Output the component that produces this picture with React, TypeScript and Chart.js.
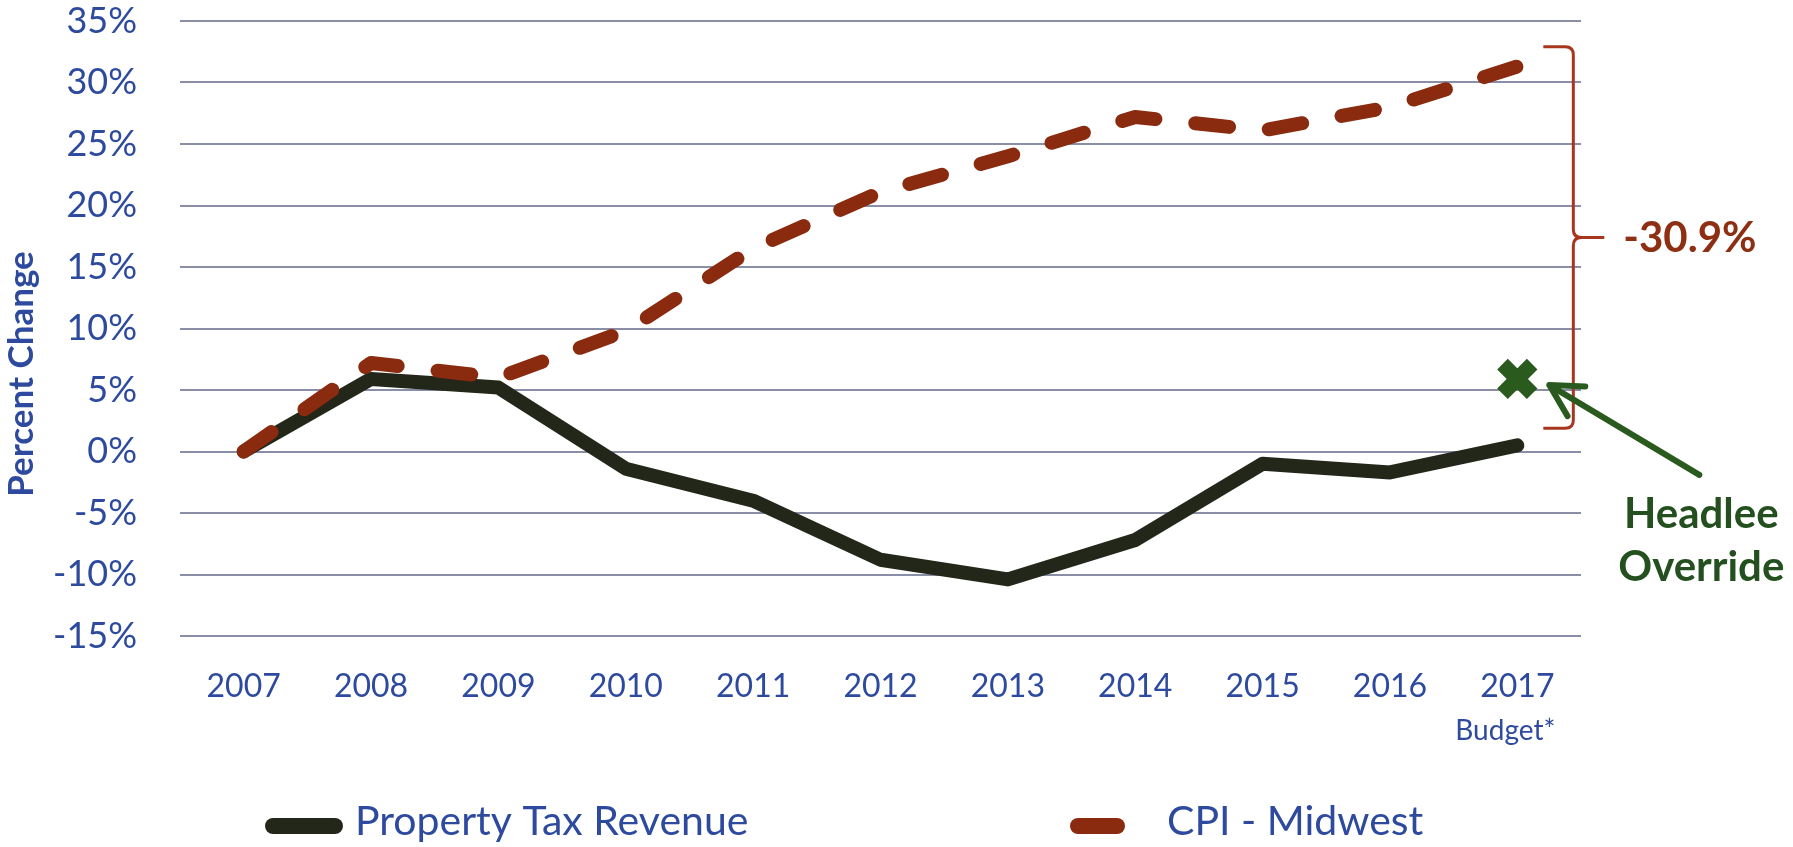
import React, { useEffect, useRef } from "react";
import { Chart, registerables } from "chart.js";

Chart.register(...registerables);

// ---------- data ----------
const years = ["2007", "2008", "2009", "2010", "2011", "2012", "2013", "2014", "2015", "2016", "2017"];
const propertyTaxRevenue = [0, 5.9, 5.2, -1.4, -4.0, -8.8, -10.4, -7.2, -1.0, -1.7, 0.5];
const cpiMidwest = [0, 7.2, 6.0, 9.8, 16.5, 21.1, 24.0, 27.2, 26.1, 28.0, 31.3];
const headleeOverride = [null, null, null, null, null, null, null, null, null, null, 5.9];
const yMin = -15;
const yMax = 35;
const yStep = 5;
const bracketTop = 32.9;
const bracketBottom = 1.9;
const gapLabel = "-30.9%";
const budgetNote = "Budget*";
const headleeLabel = ["Headlee", "Override"];
const headleeLabelValues = [-6.25, -10.5];
const arrowTipValue = 5.4;
const arrowTailValue = -1.9;

// ---------- styles ----------
const FONT = 'Lato, "Open Sans", sans-serif';
const BLUE = "#2D4A9E";
const GRID = "#8A8EA6";
const DARK = "#23271A";
const RUST = "#8A2A0E";
const BRACE = "#A8361F";
const GREEN = "#2B5A1F";
const GREEN_TEXT = "#24501F";

const annotate = {
  id: "annotate",
  afterDraw(chart: any) {
    const { ctx, scales } = chart;
    const x = scales.x;
    const y = scales.y;
    const lastIdx = years.length - 1;
    const px = x.getPixelForValue(lastIdx);

    ctx.save();

    // y axis title
    ctx.save();
    ctx.translate(33, 374);
    ctx.rotate(-Math.PI / 2);
    ctx.font = `bold 35px ${FONT}`;
    ctx.fillStyle = BLUE;
    ctx.textAlign = "center";
    ctx.textBaseline = "alphabetic";
    ctx.fillText("Percent Change", 0, 0);
    ctx.restore();

    // Budget* note under last tick
    ctx.font = `28px ${FONT}`;
    ctx.fillStyle = BLUE;
    ctx.textAlign = "center";
    ctx.textBaseline = "alphabetic";
    ctx.fillText(budgetNote, px - 12, 740);

    // curly brace
    const yT = y.getPixelForValue(bracketTop);
    const yB = y.getPixelForValue(bracketBottom);
    const yM = (yT + yB) / 2;
    const xV = px + 56;
    const xL = xV - 30;
    const xTip = xV + 31;
    const r = 8;
    ctx.strokeStyle = BRACE;
    ctx.lineWidth = 3;
    ctx.lineCap = "butt";
    ctx.lineJoin = "round";
    ctx.beginPath();
    ctx.moveTo(xL, yT);
    ctx.lineTo(xV - r, yT);
    ctx.quadraticCurveTo(xV, yT, xV, yT + r);
    ctx.lineTo(xV, yM - r);
    ctx.quadraticCurveTo(xV, yM, xV + r, yM);
    ctx.lineTo(xTip, yM);
    ctx.moveTo(xV + r, yM);
    ctx.quadraticCurveTo(xV, yM, xV, yM + r);
    ctx.lineTo(xV, yB - r);
    ctx.quadraticCurveTo(xV, yB, xV - r, yB);
    ctx.lineTo(xL, yB);
    ctx.stroke();

    ctx.font = `bold 42px ${FONT}`;
    ctx.fillStyle = "#8E2E12";
    ctx.textAlign = "left";
    ctx.fillText(gapLabel, xV + 50, yM + 15);

    // arrow to Headlee marker
    const tipX = px + 32;
    const tipY = y.getPixelForValue(arrowTipValue);
    const tailX = px + 182;
    const tailY = y.getPixelForValue(arrowTailValue);
    const ang = Math.atan2(tailY - tipY, tailX - tipX);
    ctx.strokeStyle = GREEN;
    ctx.lineWidth = 6;
    ctx.lineCap = "round";
    ctx.beginPath();
    ctx.moveTo(tailX, tailY);
    ctx.lineTo(tipX, tipY);
    const hl = 36;
    const spread = 0.5;
    ctx.moveTo(tipX + hl * Math.cos(ang - spread), tipY + hl * Math.sin(ang - spread));
    ctx.lineTo(tipX, tipY);
    ctx.lineTo(tipX + hl * Math.cos(ang + spread), tipY + hl * Math.sin(ang + spread));
    ctx.stroke();

    // Headlee Override label
    ctx.font = `bold 42px ${FONT}`;
    ctx.fillStyle = GREEN_TEXT;
    ctx.textAlign = "center";
    headleeLabel.forEach((t, i) => {
      ctx.fillText(t, px + 184, y.getPixelForValue(headleeLabelValues[i]));
    });

    // legend
    const ds = chart.data.datasets;
    const items = [
      { ds: ds[0], x0: 273, x1: 335, tx: 355 },
      { ds: ds[1], x0: 1078, x1: 1117, tx: 1167 },
    ];
    const ly = 826;
    items.forEach((it) => {
      ctx.strokeStyle = it.ds.borderColor;
      ctx.lineWidth = 16;
      ctx.lineCap = "round";
      ctx.setLineDash([]);
      ctx.beginPath();
      ctx.moveTo(it.x0, ly);
      ctx.lineTo(it.x1, ly);
      ctx.stroke();
      ctx.font = `41px ${FONT}`;
      ctx.fillStyle = BLUE;
      ctx.textAlign = "left";
      ctx.textBaseline = "alphabetic";
      ctx.fillText(it.ds.label, it.tx, 835);
    });

    ctx.restore();
  },
};

export default function App() {
  const ref = useRef<HTMLCanvasElement | null>(null);

  useEffect(() => {
    if (!ref.current) return;
    const chart = new Chart(ref.current, {
      type: "line",
      data: {
        labels: years,
        datasets: [
          {
            label: "Property Tax Revenue",
            data: propertyTaxRevenue,
            borderColor: DARK,
            backgroundColor: DARK,
            borderWidth: 14,
            pointRadius: 0,
            tension: 0,
            borderCapStyle: "round",
            borderJoinStyle: "round",
            order: 2,
          },
          {
            label: "CPI - Midwest",
            data: cpiMidwest,
            borderColor: RUST,
            backgroundColor: RUST,
            borderWidth: 14,
            borderDash: [34, 40],
            pointRadius: 0,
            tension: 0,
            borderCapStyle: "round",
            borderJoinStyle: "round",
            order: 1,
          },
          {
            label: "Headlee Override",
            data: headleeOverride,
            showLine: false,
            pointStyle: "crossRot",
            pointRadius: 21,
            pointBorderWidth: 15,
            pointBorderColor: GREEN,
            pointBackgroundColor: GREEN,
            borderColor: GREEN,
            order: 0,
          },
        ],
      },
      options: {
        responsive: false,
        animation: false,
        events: [],
        layout: { autoPadding: false, padding: { left: 0, right: 212, top: 21, bottom: 0 } },
        plugins: { legend: { display: false }, tooltip: { enabled: false } },
        scales: {
          x: {
            offset: true,
            grid: { display: false, drawTicks: false },
            border: { display: false },
            ticks: {
              color: BLUE,
              font: { family: FONT, size: 32, lineHeight: 1.2 },
              padding: 31,
              maxRotation: 0,
              autoSkip: false,
            },
            afterFit: (s: any) => {
              s.height = 211;
            },
          },
          y: {
            min: yMin,
            max: yMax,
            ticks: {
              stepSize: yStep,
              color: BLUE,
              font: { family: FONT, size: 36, lineHeight: 1 },
              padding: 0,
              callback: (v: any) => `${v}%`,
            },
            grid: {
              color: GRID,
              lineWidth: 2,
              drawTicks: true,
              tickLength: 43,
              tickColor: "rgba(0,0,0,0)",
            },
            border: { display: false },
            afterFit: (s: any) => {
              s.width = 180;
            },
          },
        },
      },
      plugins: [annotate],
    });
    return () => chart.destroy();
  }, []);

  return (
    <div style={{ position: "absolute", left: 0, top: 0, width: 1793, height: 847, background: "#fff" }}>
      <canvas ref={ref} width={1793} height={847} style={{ display: "block" }} />
    </div>
  );
}
